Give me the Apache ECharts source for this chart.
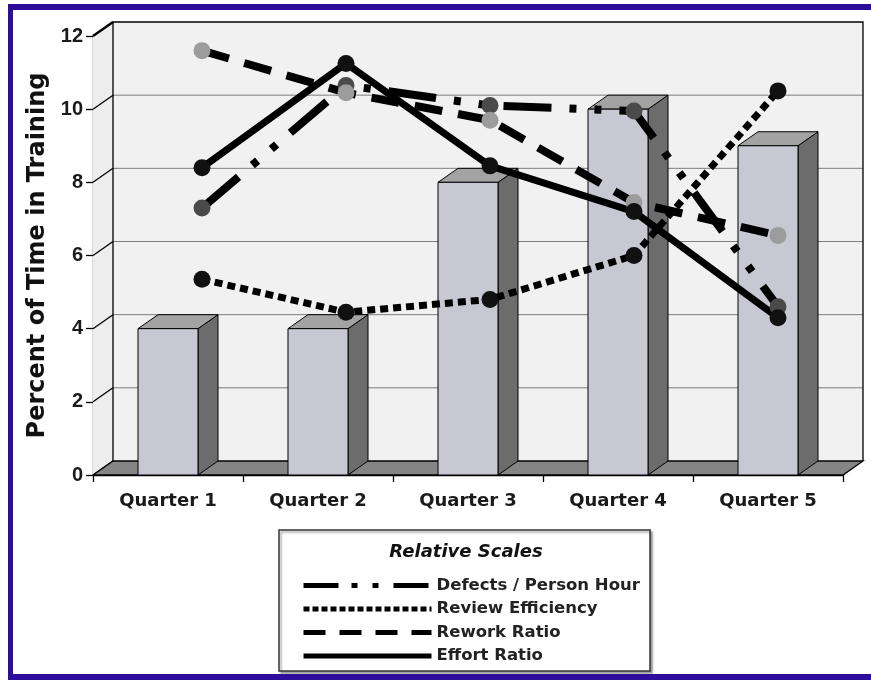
<!DOCTYPE html>
<html>
<head>
<meta charset="utf-8">
<script src="https://cdn.jsdelivr.net/npm/echarts@6/dist/echarts.min.js"></script>
<style>
html, body { margin: 0; padding: 0; background: #fff; }
#main { width: 871px; height: 681px; }
</style>
</head>
<body>
<div id="main"></div>
<script>
var quarters = ['Quarter 1', 'Quarter 2', 'Quarter 3', 'Quarter 4', 'Quarter 5'];
var trainingPct = [4, 4, 8, 10, 9];
var defectsPerHour = [7.3, 10.65, 10.1, 9.95, 4.6];
var reviewEfficiency = [5.35, 4.45, 4.8, 6.0, 10.5];
var reworkRatio = [11.6, 10.45, 9.7, 7.45, 6.55];
var effortRatio = [8.4, 11.25, 8.45, 7.2, 4.3];
var yTicks = [0, 2, 4, 6, 8, 10, 12];

// fake 3d depth
var DX = 20, DY = -14;

var myChart = echarts.init(document.getElementById('main'));

function renderFrame(params, api) {
    var cs = params.coordSys;
    var x0 = cs.x, x1 = cs.x + cs.width, yTop = cs.y, yBot = cs.y + cs.height;
    var kids = [];
    // back wall
    kids.push({ type: 'rect', shape: { x: x0 + DX, y: yTop + DY, width: cs.width, height: cs.height },
        style: { fill: '#f1f1f1', stroke: null } });
    // left wall
    kids.push({ type: 'polygon', shape: { points: [[x0, yTop], [x0 + DX, yTop + DY], [x0 + DX, yBot + DY], [x0, yBot]] },
        style: { fill: '#ededed', stroke: null } });
    yTicks.forEach(function (v, i) {
        var y = api.coord([0, v])[1];
        if (i > 0 && i < yTicks.length - 1) {
            kids.push({ type: 'line', shape: { x1: x0 + DX, y1: y + DY, x2: x1 + DX, y2: y + DY },
                style: { stroke: '#7d7d7d', lineWidth: 1 } });
        }
        kids.push({ type: 'line', shape: { x1: x0, y1: y, x2: x0 + DX, y2: y + DY },
            style: { stroke: '#000', lineWidth: i === yTicks.length - 1 ? 2.5 : 1.3 } });
    });
    // wall outline
    kids.push({ type: 'polyline', shape: { points: [[x0 + DX, yBot + DY], [x0 + DX, yTop + DY], [x1 + DX, yTop + DY], [x1 + DX, yBot + DY]] },
        style: { fill: null, stroke: '#000', lineWidth: 1.3 } });
    // floor
    kids.push({ type: 'polygon', shape: { points: [[x0, yBot], [x1, yBot], [x1 + DX, yBot + DY], [x0 + DX, yBot + DY]] },
        style: { fill: '#858585', stroke: '#000', lineWidth: 1.3 } });
    return { type: 'group', children: kids };
}

function renderBar(params, api) {
    var top = api.coord([api.value(0), api.value(1)]);
    var base = api.coord([api.value(0), 0]);
    var half = api.size([1, 0])[0] * 0.2;
    var l = top[0] - half, r = top[0] + half, t = top[1], b = base[1];
    return {
        type: 'group',
        children: [
            { type: 'polygon', shape: { points: [[r, t], [r + DX, t + DY], [r + DX, b + DY], [r, b]] },
              style: { fill: '#6c6c6c', stroke: '#000', lineWidth: 1 } },
            { type: 'polygon', shape: { points: [[l, t], [r, t], [r + DX, t + DY], [l + DX, t + DY]] },
              style: { fill: '#a3a3a3', stroke: '#000', lineWidth: 1 } },
            { type: 'rect', shape: { x: l, y: t, width: r - l, height: b - t },
              style: { fill: '#c8c8d3', stroke: '#000', lineWidth: 1 } }
        ]
    };
}

function lineSeries(name, data, dash, width, markerColor) {
    return {
        name: name,
        type: 'line',
        xAxisIndex: 1,
        yAxisIndex: 1,
        data: data,
        z: 3,
        symbol: 'circle',
        symbolSize: 17,
        itemStyle: { color: markerColor, borderWidth: 0 },
        lineStyle: { color: '#000', width: width, type: dash, cap: 'butt' }
    };
}

var tickFont = 'Liberation Sans';
var textFont = 'DejaVu Sans';

myChart.setOption({
    animation: false,
    backgroundColor: '#fff',
    grid: [
        { left: 93, right: 28, top: 36, bottom: 206 },
        { left: 202, right: 93, top: 36, bottom: 206 }
    ],
    xAxis: [{
        type: 'category',
        data: quarters,
        gridIndex: 0,
        axisLine: { lineStyle: { color: '#000', width: 1.3 } },
        axisTick: { show: true, interval: 0, length: 7, lineStyle: { color: '#000', width: 1.3 } },
        axisLabel: { margin: 17, fontFamily: textFont, fontWeight: 'bold', fontSize: 18, color: '#1a1a1a' }
    }, {
        type: 'category',
        data: quarters,
        gridIndex: 1,
        boundaryGap: false,
        show: false
    }],
    yAxis: [{
        type: 'value',
        gridIndex: 0,
        min: 0,
        max: 12,
        interval: 2,
        name: 'Percent of Time in Training',
        nameLocation: 'middle',
        nameGap: 42,
        nameTextStyle: { fontFamily: textFont, fontWeight: 'bold', fontSize: 24, color: '#111' },
        axisLine: { show: true, lineStyle: { color: '#000', width: 1.3 } },
        axisTick: { show: true, length: 7, lineStyle: { color: '#000', width: 1.3 } },
        axisLabel: { margin: 10, fontFamily: tickFont, fontWeight: 'bold', fontSize: 20, color: '#1a1a1a' },
        splitLine: { show: false }
    }, {
        type: 'value',
        gridIndex: 1,
        min: 0,
        max: 12,
        show: false,
        splitLine: { show: false }
    }],
    legend: {
        orient: 'vertical',
        left: 296,
        top: 572,
        itemWidth: 128,
        itemHeight: 14,
        itemGap: 6.5,
        selectedMode: false,
        itemStyle: { opacity: 0 },
        lineStyle: { width: 5, cap: 'butt' },
        textStyle: { fontFamily: textFont, fontWeight: 'bold', fontSize: 16.5, color: '#222' },
        data: [
            { name: 'Defects / Person Hour', lineStyle: { type: [35, 13, 6, 15, 6, 15] } },
            { name: 'Review Efficiency', lineStyle: { type: [6, 3] } },
            { name: 'Rework Ratio', lineStyle: { type: [22, 14] } },
            { name: 'Effort Ratio', lineStyle: { type: 'solid' } }
        ]
    },
    graphic: [
        { type: 'rect', z: 1, shape: { x: 279, y: 530, width: 371, height: 141 },
          style: { fill: '#fff', stroke: '#333', lineWidth: 1.5, shadowColor: 'rgba(0,0,0,0.35)', shadowOffsetX: 2, shadowOffsetY: 2, shadowBlur: 2 } },
        { type: 'text', z: 5, x: 466, y: 552,
          style: { text: 'Relative Scales', textAlign: 'center', textVerticalAlign: 'middle',
                   fontFamily: textFont, fontWeight: 'bold', fontStyle: 'italic', fontSize: 18, fill: '#111' } },
        { type: 'rect', z: 10, shape: { x: 8, y: 4, width: 870, height: 6 }, style: { fill: '#2c0e9a' } },
        { type: 'rect', z: 10, shape: { x: 8, y: 4, width: 5, height: 676 }, style: { fill: '#2c0e9a' } },
        { type: 'rect', z: 10, shape: { x: 8, y: 674, width: 870, height: 6 }, style: { fill: '#2c0e9a' } }
    ],
    series: [
        {
            name: 'frame',
            type: 'custom',
            z: 1,
            silent: true,
            renderItem: renderFrame,
            data: [[0, 0]]
        },
        {
            name: 'Training',
            type: 'custom',
            z: 2,
            renderItem: renderBar,
            encode: { x: 0, y: 1 },
            data: trainingPct.map(function (v, i) { return [i, v]; })
        },
        lineSeries('Defects / Person Hour', defectsPerHour, [48, 18, 7, 18, 7, 18], 8, '#4a4a4a'),
        lineSeries('Review Efficiency', reviewEfficiency, [8, 5], 7, '#111'),
        lineSeries('Rework Ratio', reworkRatio, [28, 16], 8, '#9c9c9c'),
        lineSeries('Effort Ratio', effortRatio, 'solid', 7, '#111')
    ]
});
</script>
</body>
</html>
